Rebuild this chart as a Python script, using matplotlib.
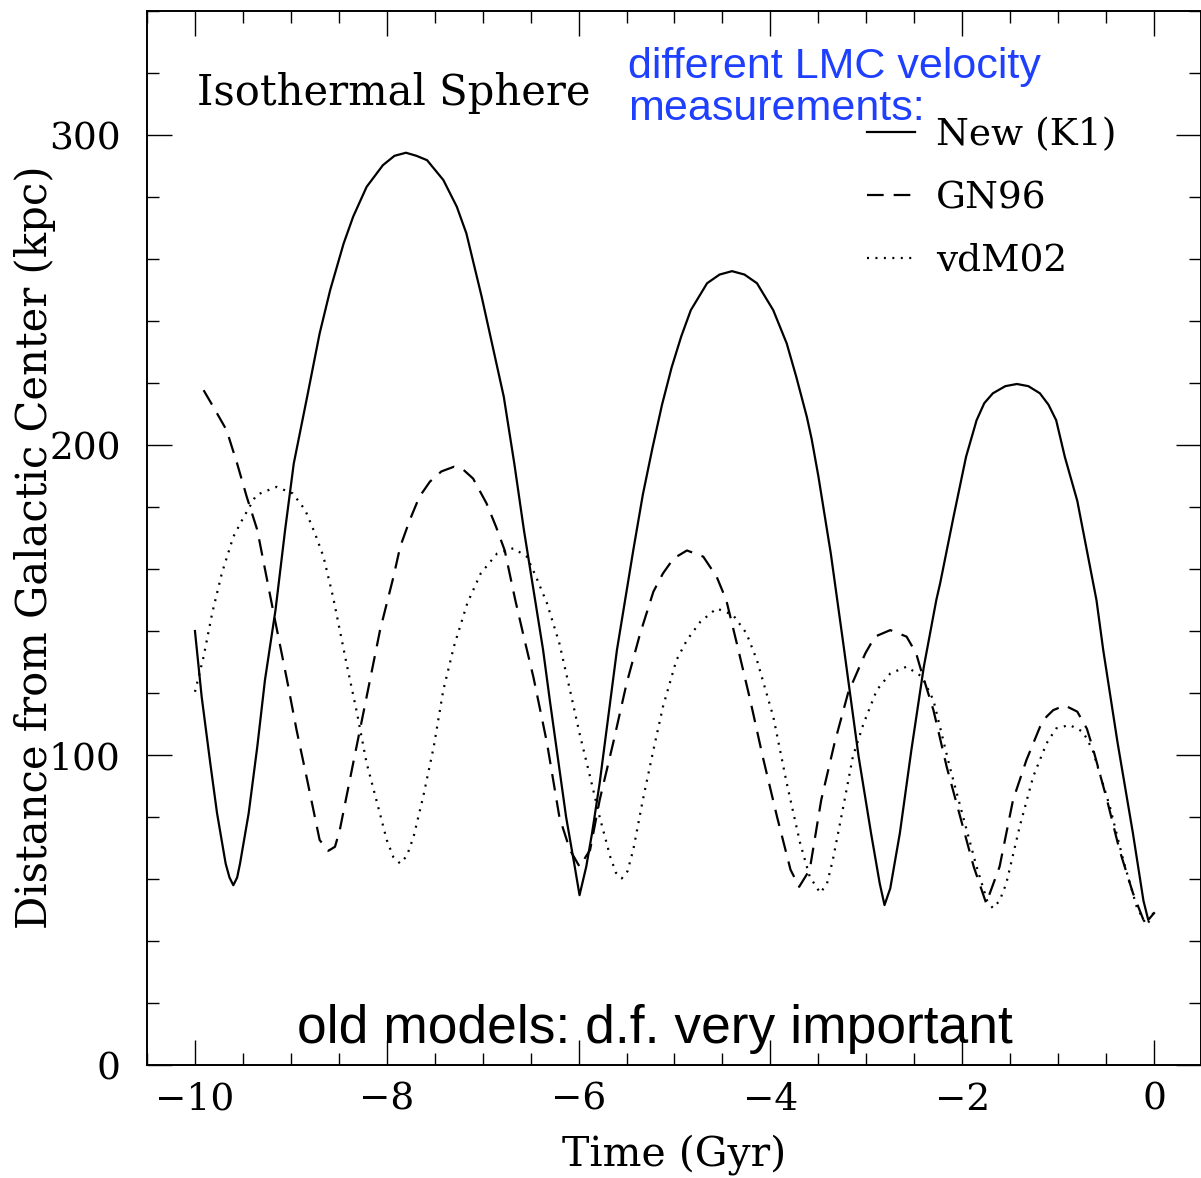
import matplotlib
matplotlib.use("Agg")
import matplotlib.pyplot as plt

# LMC orbits in an isothermal-sphere halo
# time (Gyr) and distance from the Galactic centre (kpc)
new_t = [-10.00, -9.93, -9.84, -9.77, -9.68, -9.64, -9.60, -9.56, -9.53, -9.44,
         -9.35, -9.27, -9.16, -9.06, -8.97, -8.83, -8.70, -8.59, -8.45, -8.35,
         -8.21, -8.04, -7.92, -7.80, -7.69, -7.58, -7.41, -7.27, -7.17, -7.01,
         -6.93, -6.78, -6.67, -6.57, -6.37, -6.30, -6.13, -6.04, -5.99, -5.92,
         -5.86, -5.78, -5.60, -5.43, -5.33, -5.23, -5.13, -5.03, -4.93, -4.83,
         -4.66, -4.53, -4.40, -4.27, -4.14, -3.97, -3.83, -3.73, -3.62, -3.57,
         -3.50, -3.37, -3.24, -3.17, -3.08, -2.95, -2.86, -2.81, -2.75, -2.65,
         -2.53, -2.40, -2.27, -2.23, -2.09, -1.96, -1.85, -1.77, -1.68, -1.55,
         -1.43, -1.31, -1.19, -1.10, -1.02, -0.93, -0.80, -0.70, -0.60, -0.53,
         -0.38, -0.22, -0.11, -0.06, 0.00]
new_r = [140.0, 118.8, 97.3, 81.3, 65.0, 60.5, 58.0, 60.5, 65.0, 81.2,
         102.7, 124.2, 146.8, 172.6, 194.0, 215.6, 236.0, 250.0, 265.0, 273.7,
         283.3, 290.3, 293.3, 294.3, 293.3, 291.9, 285.5, 276.9, 268.3, 247.8,
         236.6, 215.6, 194.0, 172.6, 133.9, 117.7, 80.0, 64.0, 54.8, 64.0,
         74.7, 91.0, 133.9, 166.0, 184.0, 199.0, 213.0, 225.0, 235.0, 243.5,
         252.2, 255.0, 256.1, 255.0, 252.2, 243.5, 232.8, 222.0, 209.1, 202.0,
         190.0, 165.0, 136.0, 120.0, 99.5, 74.7, 58.6, 51.6, 57.0, 74.8,
         101.6, 128.5, 150.0, 155.4, 176.9, 196.2, 208.0, 213.5, 216.7, 219.0,
         219.7, 219.0, 216.7, 213.0, 208.0, 196.2, 182.0, 166.0, 150.0, 134.0,
         104.0, 74.8, 53.0, 46.8, 49.0]

gn_t = [-9.91, -9.81, -9.67, -9.56, -9.46, -9.35, -9.18, -9.04, -8.94, -8.83,
        -8.70, -8.61, -8.54, -8.49, -8.35, -8.21, -8.07, -7.93, -7.86, -7.76,
        -7.66, -7.55, -7.43, -7.30, -7.20, -7.10, -6.96, -6.86, -6.77, -6.66,
        -6.57, -6.47, -6.33, -6.20, -6.09, -5.99, -5.88, -5.78, -5.64, -5.50,
        -5.36, -5.22, -5.12, -5.01, -4.87, -4.70, -4.56, -4.46, -4.35, -4.21,
        -4.08, -3.93, -3.79, -3.70, -3.59, -3.47, -3.33, -3.19, -3.01, -2.91,
        -2.75, -2.58, -2.48, -2.44, -2.30, -2.16, -2.02, -1.88, -1.75, -1.61,
        -1.47, -1.33, -1.19, -1.12, -1.05, -0.93, -0.80, -0.70, -0.64, -0.49,
        -0.36, -0.22, -0.11, 0.00]
gn_r = [217.7, 212.4, 204.8, 194.0, 183.3, 172.6, 145.8, 124.2, 108.0, 92.0,
        72.6, 69.1, 70.4, 75.8, 97.4, 118.8, 140.3, 157.5, 167.2, 175.8,
        183.3, 188.2, 191.5, 193.0, 192.0, 189.2, 181.2, 173.6, 166.0, 150.0,
        138.0, 125.0, 104.0, 80.0, 69.4, 64.0, 69.4, 85.5, 103.8, 123.0,
        139.0, 152.7, 158.6, 163.4, 166.0, 164.0, 157.5, 150.0, 136.0, 117.7,
        99.5, 80.0, 63.0, 57.5, 63.0, 85.5, 104.0, 120.0, 132.8, 138.2,
        140.3, 138.2, 132.8, 128.5, 114.5, 96.0, 80.0, 64.0, 52.2, 64.0,
        85.5, 98.4, 109.0, 112.4, 114.5, 116.0, 114.0, 108.5, 102.5, 85.5,
        69.4, 55.5, 46.8, 49.0]

vdm_t = [-10.00, -9.91, -9.82, -9.72, -9.60, -9.50, -9.36, -9.15, -8.98, -8.85,
         -8.75, -8.66, -8.56, -8.42, -8.31, -8.21, -8.10, -8.00, -7.93, -7.86,
         -7.79, -7.72, -7.62, -7.51, -7.41, -7.30, -7.16, -7.02, -6.85, -6.68,
         -6.54, -6.45, -6.33, -6.20, -6.09, -5.99, -5.88, -5.78, -5.67, -5.61,
         -5.55, -5.49, -5.43, -5.33, -5.22, -5.12, -4.98, -4.87, -4.73, -4.56,
         -4.39, -4.25, -4.14, -3.97, -3.83, -3.69, -3.59, -3.48, -3.41, -3.35,
         -3.24, -3.14, -3.03, -2.89, -2.75, -2.58, -2.42, -2.30, -2.13, -1.99,
         -1.85, -1.74, -1.68, -1.61, -1.54, -1.40, -1.26, -1.12, -1.02, -0.88,
         -0.74, -0.64, -0.46, -0.32, -0.18, -0.08, -0.04]
vdm_r = [120.4, 131.7, 145.8, 158.6, 170.4, 176.3, 183.9, 186.5, 184.4, 179.0,
         171.6, 164.0, 151.0, 129.6, 113.5, 97.4, 84.5, 72.6, 67.0, 65.0,
         67.5, 73.7, 86.6, 102.7, 121.0, 135.0, 149.0, 158.6, 165.0, 166.7,
         164.0, 158.0, 149.0, 136.0, 121.0, 107.0, 93.0, 80.0, 67.2, 62.0,
         60.2, 62.5, 69.4, 85.5, 101.6, 115.6, 130.6, 137.1, 143.0, 147.3,
         145.2, 139.3, 130.6, 112.4, 91.0, 71.6, 60.8, 55.5, 58.5, 66.0,
         83.3, 99.5, 110.0, 121.0, 126.3, 128.5, 125.3, 117.7, 96.2, 80.0,
         64.0, 53.0, 50.6, 53.0, 58.6, 77.0, 93.0, 103.8, 108.6, 109.7,
         107.5, 101.6, 83.3, 66.0, 51.0, 45.2, 46.8]

labels = ["New (K1)", "GN96", "vdM02"]

plt.rcParams["font.family"] = "DejaVu Serif"

fig = plt.figure(figsize=(12.01, 11.78), dpi=100)
ax = fig.add_axes([0.1224, 0.0959, 0.8776, 0.8947])

lw = 1.6
ax.plot(new_t, new_r, color="black", lw=lw, label=labels[0])
ax.plot(gn_t, gn_r, color="black", lw=lw, dashes=(7.5, 4.5), label=labels[1])
ax.plot(vdm_t, vdm_r, color="black", lw=lw, dashes=(0.9, 2.9), label=labels[2])

ax.set_xlim(-10.5, 0.49)
ax.set_ylim(0, 340)
ax.set_xticks([-10, -8, -6, -4, -2, 0])
ax.set_xticks([v * 0.5 - 10.5 for v in range(22)], minor=True)
ax.set_yticks([0, 100, 200, 300])
ax.set_yticks(range(0, 341, 20), minor=True)
ax.tick_params(which="both", direction="in", top=True, right=True, width=1.0)
ax.tick_params(which="major", length=18, labelsize=27)
ax.tick_params(axis="x", which="major", pad=12)
ax.tick_params(axis="y", which="major", pad=19)
ax.tick_params(which="minor", length=8.5)
for side in ax.spines.values():
    side.set_linewidth(1.4)

ax.set_xlabel("Time (Gyr)", fontsize=29.5)
ax.set_ylabel("Distance from Galactic Center (kpc)", fontsize=30)
ax.xaxis.set_label_coords(0.5, -0.066)
ax.yaxis.set_label_coords(-0.086, 0.491)

ax.text(0.0475, 0.911, "Isothermal Sphere", transform=ax.transAxes,
        fontsize=30, va="baseline", ha="left")
blue = "#1f3fff"
ax.text(0.456, 0.9364, "different LMC velocity", transform=ax.transAxes,
        fontsize=31, color=blue, family="Liberation Sans", va="baseline")
ax.text(0.456, 0.8966, "measurements:", transform=ax.transAxes,
        fontsize=31, color=blue, family="Liberation Sans", va="baseline")
ax.text(0.1425, 0.0209, "old models: d.f. very important", transform=ax.transAxes,
        fontsize=38.4, color="black", family="Liberation Sans", va="baseline")

ax.legend(loc="upper left", bbox_to_anchor=(0.6828, 0.899), frameon=False,
          fontsize=27, handlelength=1.28, handletextpad=0.56, labelspacing=0.71,
          borderpad=0, borderaxespad=0)

fig.savefig("out.png", dpi=100)
